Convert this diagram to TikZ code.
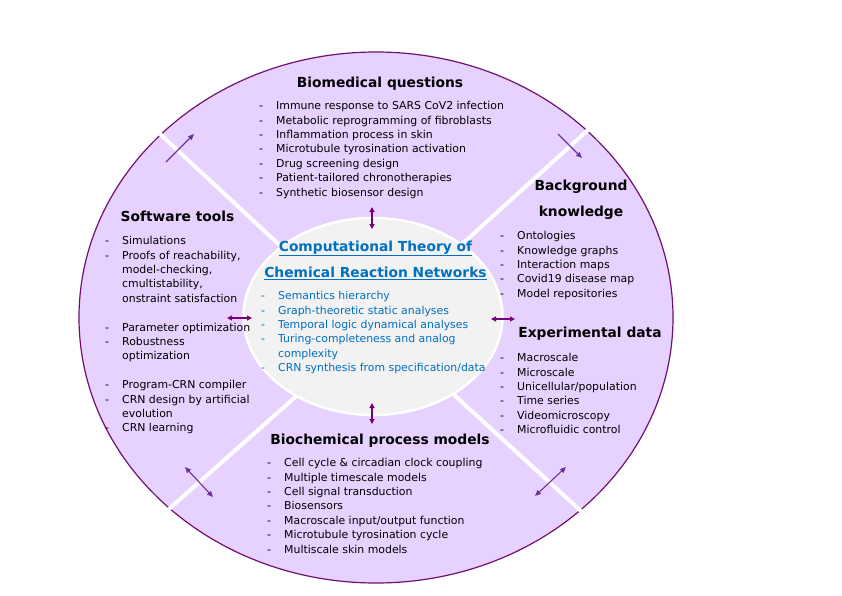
\documentclass[tikz,border=0pt]{standalone}
\usepackage{fontspec}
\setmainfont{DejaVu Sans}
\usepackage{tikz}
\usetikzlibrary{arrows.meta}

\definecolor{fieldfill}{RGB}{231,209,255}
\definecolor{rim}{RGB}{112,16,112}
\definecolor{corefill}{RGB}{242,242,242}
\definecolor{linkcol}{RGB}{120,0,120}
\definecolor{feedcol}{RGB}{112,48,160}
\definecolor{crnblue}{RGB}{0,112,192}

\newcommand{\dsh}{\makebox[17pt][l]{-}}
\newcommand{\cont}{\hspace*{17pt}}

\begin{document}
\begin{tikzpicture}[x=1pt,y=-1pt,
        field/.style={fill=fieldfill,draw=rim,line width=1.2pt},
        core/.style={fill=corefill,draw=white,line width=2.5pt},
        divider/.style={draw=white,line width=4pt},
        head/.style={font=\fontsize{13.8}{26}\selectfont\bfseries,inner sep=0pt,align=center},
        items/.style={font=\fontsize{10.9}{14.4}\selectfont,align=left,anchor=north west,inner sep=0pt},
        link/.style={draw=linkcol,line width=1.1pt,{Triangle[length=5pt,width=5pt]}-{Triangle[length=5pt,width=5pt]}},
        feed/.style={draw=feedcol,line width=1.1pt,-{Triangle[length=6pt,width=5pt]}},
        swap/.style={draw=feedcol,line width=1.1pt,{Triangle[length=6pt,width=5pt]}-{Triangle[length=6pt,width=5pt]}}]
        \useasboundingbox[fill=white] (0,0) rectangle (842,595);

        % The outer ellipse
        \draw[field] (376,317.5) ellipse [x radius=297, y radius=265.5];

        % The four white dividers
        \draw[divider] (300,264) -- (160,134);
        \draw[divider] (450,255) -- (588,130);
        \draw[divider] (310,384) -- (169,509);
        \draw[divider] (440,382) -- (581,511);

        % The inner ellipse
        \draw[core] (373,316.5) ellipse [x radius=129.5, y radius=98.5];

        % The centre
        \node[head,anchor=north,text=crnblue] (crn) at (375.5,232.8)
            {\strut\underline{Computational Theory of}\\\underline{Chemical Reaction Networks}};
        \node[items,text=crnblue] (crnlist) at (261,289.4) {\strut\dsh Semantics hierarchy\\
            \dsh Graph-theoretic static analyses\\
            \dsh Temporal logic dynamical analyses\\
            \dsh Turing-completeness and analog\\
            \cont complexity\\
            \dsh CRN synthesis from specification/data};

        % Biomedical questions
        \node[head,anchor=base] (bio) at (380,87) {Biomedical questions};
        \node[items] (biolist) at (259,99.4) {\strut\dsh Immune response to SARS CoV2 infection\\
            \dsh Metabolic reprogramming of fibroblasts\\
            \dsh Inflammation process in skin\\
            \dsh Microtubule tyrosination activation\\
            \dsh Drug screening design\\
            \dsh Patient-tailored chronotherapies\\
            \dsh Synthetic biosensor design};

        % Background knowledge
        \node[head,anchor=north] (bk) at (581,171.8) {\strut Background\\knowledge};
        \node[items] (bklist) at (500,229.4) {\strut\dsh Ontologies\\
            \dsh Knowledge graphs\\
            \dsh Interaction maps\\
            \dsh Covid19 disease map\\
            \dsh Model repositories};

        % Experimental data
        \node[head,anchor=base] (exp) at (590,337) {Experimental data};
        \node[items] (explist) at (500,351.4) {\strut\dsh Macroscale\\
            \dsh Microscale\\
            \dsh Unicellular/population\\
            \dsh Time series\\
            \dsh Videomicroscopy\\
            \dsh Microfluidic control};

        % Software tools
        \node[head,anchor=base] (soft) at (177.5,221) {Software tools};
        \node[items] (softlist) at (105,234.4) {\strut\dsh Simulations\\
            \dsh Proofs of reachability,\\
            \cont model-checking,\\
            \cont cmultistability,\\
            \cont onstraint satisfaction\\
            \\
            \dsh Parameter optimization\\
            \dsh Robustness\\
            \cont optimization\\
            \\
            \dsh Program-CRN compiler\\
            \dsh CRN design by artificial\\
            \cont evolution\\
            \dsh CRN learning};

        % Biochemical process models
        \node[head,anchor=base] (proc) at (380,444) {Biochemical process models};
        \node[items] (proclist) at (267,456.4) {\strut\dsh Cell cycle \& circadian clock coupling\\
            \dsh Multiple timescale models\\
            \dsh Cell signal transduction\\
            \dsh Biosensors\\
            \dsh Macroscale input/output function\\
            \dsh Microtubule tyrosination cycle\\
            \dsh Multiscale skin models};

        % The arrows
        \coordinate (n1) at (372,207);  \coordinate (n2) at (372,229);
        \coordinate (s1) at (372,403);  \coordinate (s2) at (372,424);
        \coordinate (w1) at (227,318);  \coordinate (w2) at (252,318);
        \coordinate (e1) at (491,319);  \coordinate (e2) at (515,319);
        \coordinate (nw1) at (166,162); \coordinate (nw2) at (194,134);
        \coordinate (ne1) at (558,134); \coordinate (ne2) at (582,158);
        \coordinate (sw1) at (185,467); \coordinate (sw2) at (213,497);
        \coordinate (se1) at (535,496); \coordinate (se2) at (566,467);
        \draw[link] (n1) -- (n2);
        \draw[link] (s1) -- (s2);
        \draw[link] (w1) -- (w2);
        \draw[link] (e1) -- (e2);
        \draw[feed] (nw1) -- (nw2);
        \draw[feed] (ne1) -- (ne2);
        \draw[swap] (sw1) -- (sw2);
        \draw[swap] (se1) -- (se2);
\end{tikzpicture}
\end{document}
